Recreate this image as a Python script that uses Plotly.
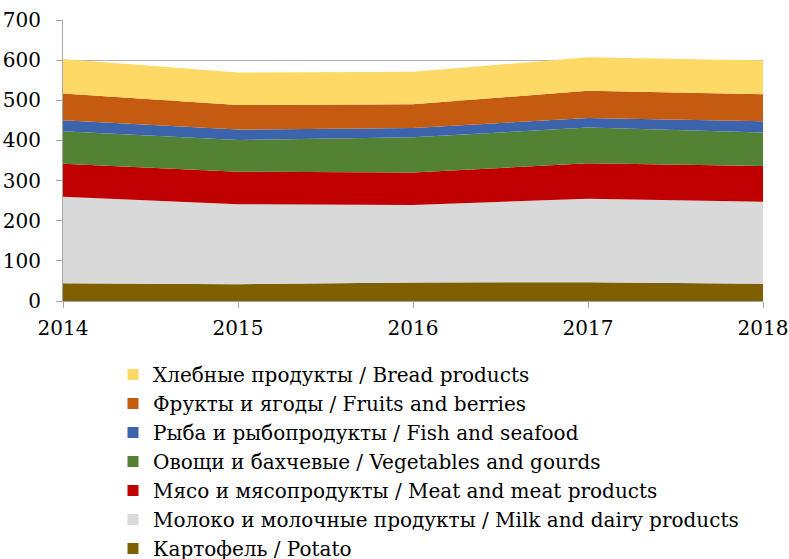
import plotly.graph_objects as go

years = [2014, 2015, 2016, 2017, 2018]
potato = [44, 42, 46, 47, 43]
milk = [216, 199, 193, 208, 204]
meat = [82, 81, 81, 88, 89]
vegetables = [81, 79, 88, 89, 84]
fish = [27, 26, 23, 24, 28]
fruits = [67, 61, 59, 68, 67]
bread = [86, 81, 81, 83, 84]

names = {
    "potato": "Картофель / Potato",
    "milk": "Молоко и молочные продукты / Milk and dairy products",
    "meat": "Мясо и мясопродукты / Meat and meat products",
    "veg": "Овощи и бахчевые / Vegetables and gourds",
    "fish": "Рыба и рыбопродукты / Fish and seafood",
    "fruits": "Фрукты и ягоды / Fruits and berries",
    "bread": "Хлебные продукты / Bread products",
}
colors = {
    "potato": "#7F6000",
    "milk": "#D9D9D9",
    "meat": "#C00000",
    "veg": "#548235",
    "fish": "#3B64AD",
    "fruits": "#C55A11",
    "bread": "#FFD966",
}
series = [("potato", potato), ("milk", milk), ("meat", meat), ("veg", vegetables),
          ("fish", fish), ("fruits", fruits), ("bread", bread)]

fig = go.Figure()
for key, vals in series:
    fig.add_trace(go.Scatter(
        x=years, y=vals, stackgroup="one", mode="none",
        fillcolor=colors[key], line=dict(width=0), showlegend=False,
        name=names[key]))

# legend entries (top to bottom)
for key, vals in reversed(series):
    fig.add_trace(go.Scatter(
        x=[None], y=[None], mode="markers", name=names[key],
        marker=dict(symbol="square", size=11, color=colors[key]),
        showlegend=True))

font_family = "DejaVu Serif"
fig.update_layout(
    width=789, height=559,
    margin=dict(l=63, r=26, t=20, b=258, autoexpand=False),
    paper_bgcolor="white", plot_bgcolor="white",
    font=dict(family=font_family, color="black", size=20),
    showlegend=True,
    legend=dict(
        orientation="v", traceorder="normal",
        x=(113 - 63) / 700, xanchor="left", y=(301 - 355) / 281, yanchor="top",
        font=dict(family=font_family, size=20, color="black"),
        itemwidth=30, bgcolor="rgba(0,0,0,0)",
    ),
    xaxis=dict(
        range=[2014, 2018], tickvals=years, ticktext=[str(y) for y in years],
        showgrid=False, zeroline=False, showline=True, linecolor="#A6A6A6",
        linewidth=1, ticks="outside", ticklen=6, tickcolor="#A6A6A6",
        tickfont=dict(size=20, family=font_family), ticklabelstandoff=3,
    ),
    yaxis=dict(
        range=[0, 700], tickvals=[0, 100, 200, 300, 400, 500, 600, 700],
        showgrid=True, gridcolor="#B3B3B3", gridwidth=1, zeroline=False,
        showline=True, linecolor="#A6A6A6", linewidth=1,
        ticks="outside", ticklen=6, tickcolor="#A6A6A6",
        tickfont=dict(size=20, family=font_family), ticklabelstandoff=11,
    ),
)

fig.write_html("out.html", config={"displayModeBar": False},
               post_script="document.body.style.margin='0';")
